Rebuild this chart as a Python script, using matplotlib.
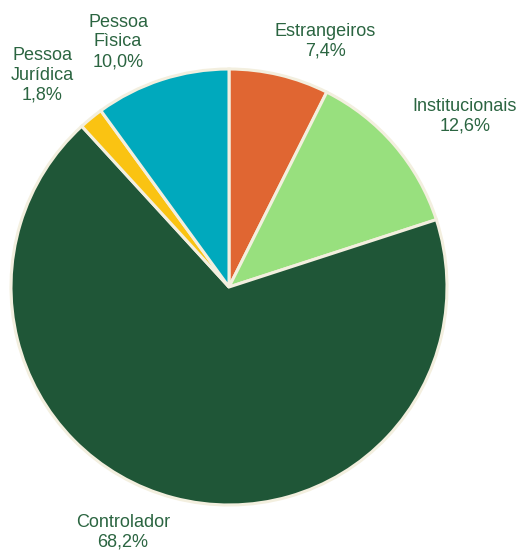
import matplotlib
matplotlib.use("Agg")
import matplotlib.pyplot as plt

categories = ["Estrangeiros", "Institucionais", "Controlador", "Pessoa\nJurídica", "Pessoa\nFìsica"]
values = [7.4, 12.6, 68.2, 1.8, 10.0]
pct_labels = ["7,4%", "12,6%", "68,2%", "1,8%", "10,0%"]
colors = ["#E06632", "#98E07E", "#1F5637", "#FAC312", "#00A9BD"]

label_pos = [(96, 246), (236, 171), (-106, -245), (-187, 212), (-111, 245)]

plt.rcParams['font.family'] = ['Liberation Sans', 'DejaVu Sans']
fig = plt.figure(figsize=(5.21, 5.53), dpi=100)
ax = fig.add_axes([0, 0, 1, 1])
ax.pie(values, colors=colors, startangle=90, counterclock=False, radius=218,
       center=(0, 0),
       wedgeprops=dict(edgecolor="#F3EFDF", linewidth=2.2))
ax.set_xlim(-229, 292)
ax.set_ylim(-266, 287)
ax.set_aspect('equal')
ax.axis('off')
for cat, pct, (x, y) in zip(categories, pct_labels, label_pos):
    ax.text(x, y, f"{cat}\n{pct}", ha='center', va='center', fontsize=13,
            color="#2B6541", linespacing=1.22)
fig.savefig("out.png", dpi=100)
